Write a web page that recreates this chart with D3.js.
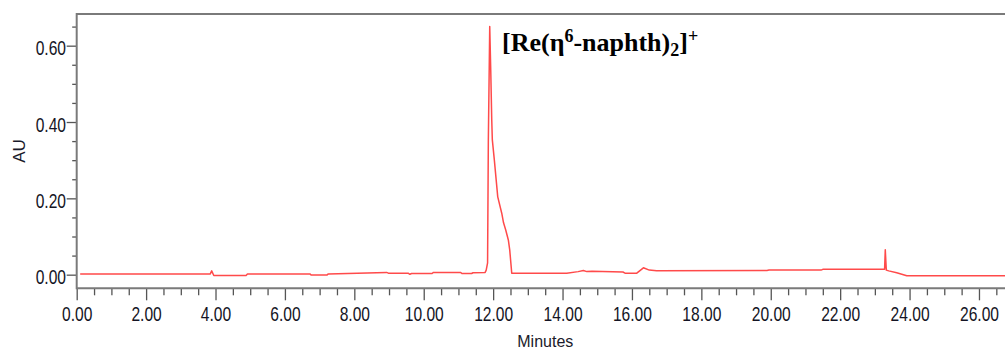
<!DOCTYPE html>
<html>
<head>
<meta charset="utf-8">
<script src="https://cdn.jsdelivr.net/npm/d3@7/dist/d3.min.js"></script>
<style>
  html, body { margin: 0; padding: 0; background: #fff; }
  svg { display: block; }
</style>
</head>
<body>
<svg id="chart" width="1005" height="349"></svg>
<script>
// ---- data ----
const timeMin = [0.10, 3.85, 3.89, 3.95, 4.88, 4.92, 6.72, 6.76, 7.21, 7.25,
  8.93, 8.98, 9.55, 9.60, 9.65, 10.24, 10.28, 11.06, 11.10, 11.38, 11.42,
  11.77, 11.80, 11.84, 11.862, 11.902, 11.931, 11.96, 11.977, 12.035, 12.133,
  12.248, 12.30, 12.363, 12.438, 12.478, 12.536, 12.58, 14.12, 14.45, 14.60,
  14.70, 14.85, 15.74, 15.80, 16.14, 16.33, 16.50, 16.71, 19.89, 19.95, 21.45,
  21.50, 23.28, 23.30, 23.33, 23.40, 23.63, 23.92, 26.75];
const absorbance = [0.002, 0.002, 0.010, -0.002, -0.002, 0.002, 0.002, -0.001, -0.001, 0.002,
  0.006, 0.004, 0.004, 0.001, 0.003, 0.003, 0.006, 0.006, 0.003, 0.003, 0.005,
  0.006, 0.012, 0.031, 0.353, 0.650, 0.536, 0.405, 0.353, 0.300, 0.204,
  0.161, 0.136, 0.117, 0.091, 0.065, 0.004, 0.004, 0.004, 0.008, 0.011,
  0.008, 0.009, 0.007, 0.004, 0.004, 0.018, 0.012, 0.010, 0.011, 0.012, 0.012,
  0.014, 0.014, 0.065, 0.012, 0.010, 0.005, -0.003, -0.003];
const xMajorTicks = [0, 2, 4, 6, 8, 10, 12, 14, 16, 18, 20, 22, 24, 26];
const xMinorTicks = [0.5, 1, 1.5, 2.5, 3, 3.5, 4.5, 5, 5.5, 6.5, 7, 7.5, 8.5, 9, 9.5,
  10.5, 11, 11.5, 12.5, 13, 13.5, 14.5, 15, 15.5, 16.5, 17, 17.5, 18.5, 19, 19.5,
  20.5, 21, 21.5, 22.5, 23, 23.5, 24.5, 25, 25.5, 26.5];
const yMajorTicks = [0, 0.2, 0.4, 0.6];
const yMinorTicks = [0.05, 0.1, 0.15, 0.25, 0.3, 0.35, 0.45, 0.5, 0.55, 0.65];
const xTitle = "Minutes";
const yTitle = "AU";

const svg = d3.select("#chart");
const L = 76.7, R = 1005, T = 14, B = 288.3;

const x = d3.scaleLinear().domain([0, 26.75]).range([L, R]);
const y = d3.scaleLinear().domain([-0.0357, 0.683]).range([B, T]);

const axisColor = "#7a7a7a";
const labelFont = "'Liberation Sans', Arial, sans-serif";
const sx = 0.78;

// frame
svg.append("line").attr("x1", L).attr("x2", R).attr("y1", T).attr("y2", T)
  .attr("stroke", axisColor).attr("stroke-width", 2);

// y minor
const gyMinor = svg.append("g").attr("transform", `translate(${L},0)`)
  .call(d3.axisLeft(y).tickValues(yMinorTicks).tickSize(4.5).tickSizeOuter(0).tickFormat(""));
// y major
const gy = svg.append("g").attr("transform", `translate(${L},0)`)
  .call(d3.axisLeft(y).tickValues(yMajorTicks).tickSize(10).tickSizeOuter(0).tickFormat(d3.format(".2f")));
[gyMinor, gy].forEach(g => {
  g.select(".domain").remove();
  g.selectAll(".tick line").attr("stroke", "#555").attr("stroke-width", 1.3);
});
gy.selectAll(".tick text")
  .attr("font-family", labelFont).attr("font-size", 20).attr("fill", "#141424")
  .attr("transform", `scale(${sx},1)`)
  .attr("x", -10.7 / sx).attr("dy", "0.45em");

// x minor
const gxMinor = svg.append("g").attr("transform", `translate(0,${B})`)
  .call(d3.axisBottom(x).tickValues(xMinorTicks).tickSize(7).tickSizeOuter(0).tickFormat(""));
const gx = svg.append("g").attr("transform", `translate(0,${B})`)
  .call(d3.axisBottom(x).tickValues(xMajorTicks).tickSize(12).tickSizeOuter(0).tickFormat(d3.format(".2f")));
[gxMinor, gx].forEach(g => {
  g.select(".domain").remove();
  g.selectAll(".tick line").attr("stroke", "#555").attr("stroke-width", 1.3);
});
gx.selectAll(".tick text")
  .attr("font-family", labelFont).attr("font-size", 20).attr("fill", "#141424")
  .attr("transform", `scale(${sx},1)`)
  .attr("x", 0).attr("y", 18.4).attr("dy", "0.71em");

// left and bottom frame lines
svg.append("line").attr("x1", L).attr("x2", L).attr("y1", T - 1).attr("y2", B + 1)
  .attr("stroke", axisColor).attr("stroke-width", 2);
svg.append("line").attr("x1", L).attr("x2", R).attr("y1", B).attr("y2", B)
  .attr("stroke", axisColor).attr("stroke-width", 2);

// trace
const data = timeMin.map((t, i) => [t, absorbance[i]]);
svg.append("path").datum(data)
  .attr("fill", "none").attr("stroke", "#ff4a4a").attr("stroke-width", 1.5)
  .attr("stroke-linejoin", "round")
  .attr("d", d3.line().x(d => x(d[0])).y(d => y(d[1])));

// axis titles
svg.append("text").attr("x", 545.3).attr("y", 346.5).attr("text-anchor", "middle")
  .attr("font-family", labelFont).attr("font-size", 16).attr("fill", "#1a1a2a").text(xTitle);
svg.append("text").attr("transform", "translate(25,151) rotate(-90)").attr("text-anchor", "middle")
  .attr("font-family", labelFont).attr("font-size", 17).attr("fill", "#1a1a2a").text(yTitle);

// annotation
const ann = svg.append("text").attr("x", 502).attr("y", 51)
  .attr("font-family", "'Liberation Serif', 'Times New Roman', serif")
  .attr("font-weight", "bold").attr("font-size", 26).attr("fill", "#000");
ann.append("tspan").text("[Re(η");
ann.append("tspan").attr("font-size", 18).attr("dy", -9).text("6");
ann.append("tspan").attr("dy", 9).text("-naphth)");
ann.append("tspan").attr("font-size", 18).attr("dy", 5).text("2");
ann.append("tspan").attr("dy", -5).text("]");
ann.append("tspan").attr("font-size", 18).attr("dy", -9).text("+");
</script>
</body>
</html>
